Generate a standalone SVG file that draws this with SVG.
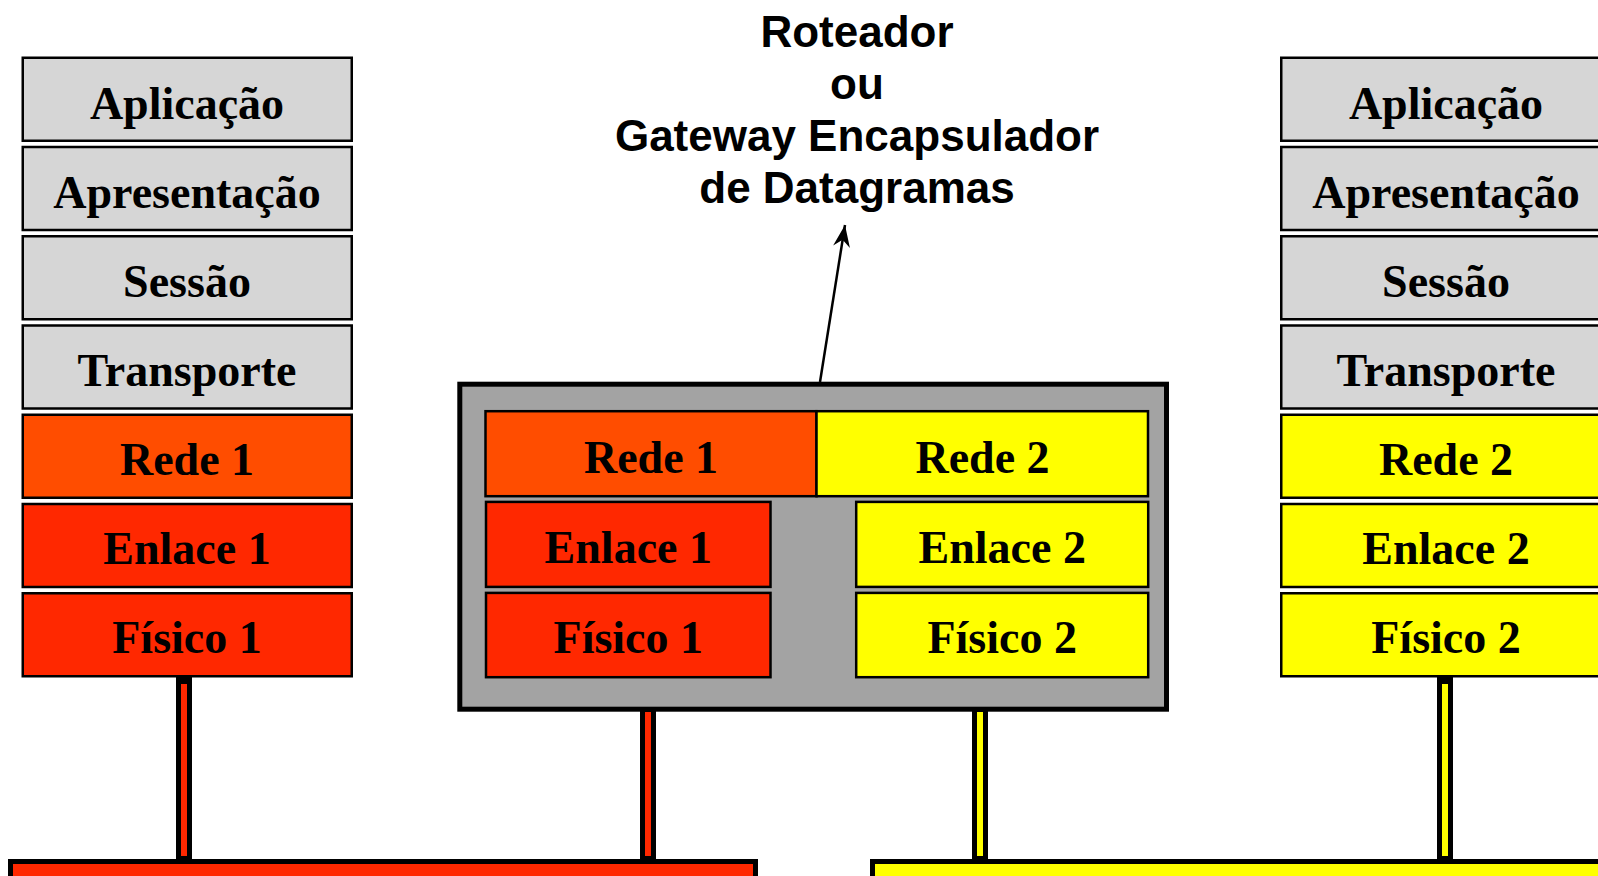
<svg xmlns="http://www.w3.org/2000/svg" width="1598" height="876" viewBox="0 0 1598 876">
<style>
.lay{stroke:#000;stroke-width:2.5}
.gray{fill:#d6d6d6}
.net1{fill:#ff4d00}
.red{fill:#ff2800}
.yel{fill:#ffff00}
.lbl{font-family:"Liberation Serif","Times New Roman",serif;font-weight:bold;font-size:46px;text-anchor:middle;fill:#000}
.ttl{font-family:"Liberation Sans",Arial,sans-serif;font-weight:bold;font-size:44px;text-anchor:middle;fill:#000}
</style>
<defs>
<marker id="ah" markerUnits="userSpaceOnUse" markerWidth="30" markerHeight="30" refX="0" refY="0" orient="auto" overflow="visible">
<path d="M0,0 L-22,-8.5 L-15,0 L-22,8.5 Z" fill="#000"/>
</marker>
</defs>
<rect width="1598" height="876" fill="#fff"/>

<g id="connectors">
<rect x="176" y="676" width="16" height="185" fill="#000"/>
<rect x="181" y="684" width="6" height="172" class="red"/>
<rect x="640" y="708" width="16" height="153" fill="#000"/>
<rect x="645" y="712" width="6" height="144" class="red"/>
<rect x="972" y="708" width="16" height="153" fill="#000"/>
<rect x="977" y="712" width="6" height="144" class="yel"/>
<rect x="1437" y="676" width="16" height="185" fill="#000"/>
<rect x="1442" y="684" width="6" height="172" class="yel"/>
<line x1="820" y1="382" x2="845" y2="225" stroke="#000" stroke-width="2.5" marker-end="url(#ah)"/>
</g>

<g id="net1-bus">
<rect x="8" y="859" width="750" height="40" fill="#000"/>
<rect x="13" y="864" width="740" height="30" class="red"/>
</g>
<g id="net2-bus">
<rect x="870" y="859" width="800" height="40" fill="#000"/>
<rect x="875" y="864" width="790" height="30" class="yel"/>
</g>

<g id="host-left">
<rect class="lay gray" x="22.75" y="57.75" width="329" height="83"/>
<text class="lbl" x="187" y="119">Aplicação</text>
<rect class="lay gray" x="22.75" y="147" width="329" height="83"/>
<text class="lbl" x="187" y="208">Apresentação</text>
<rect class="lay gray" x="22.75" y="236.25" width="329" height="83"/>
<text class="lbl" x="187" y="297">Sessão</text>
<rect class="lay gray" x="22.75" y="325.5" width="329" height="83"/>
<text class="lbl" x="187" y="386">Transporte</text>
<rect class="lay net1" x="22.75" y="414.75" width="329" height="83"/>
<text class="lbl" x="187" y="475">Rede 1</text>
<rect class="lay red" x="22.75" y="504" width="329" height="83"/>
<text class="lbl" x="187" y="564">Enlace 1</text>
<rect class="lay red" x="22.75" y="593.25" width="329" height="83"/>
<text class="lbl" x="187" y="653">Físico 1</text>
</g>

<g id="host-right">
<rect class="lay gray" x="1281.25" y="57.75" width="329" height="83"/>
<text class="lbl" x="1446" y="119">Aplicação</text>
<rect class="lay gray" x="1281.25" y="147" width="329" height="83"/>
<text class="lbl" x="1446" y="208">Apresentação</text>
<rect class="lay gray" x="1281.25" y="236.25" width="329" height="83"/>
<text class="lbl" x="1446" y="297">Sessão</text>
<rect class="lay gray" x="1281.25" y="325.5" width="329" height="83"/>
<text class="lbl" x="1446" y="386">Transporte</text>
<rect class="lay yel" x="1281.25" y="414.75" width="329" height="83"/>
<text class="lbl" x="1446" y="475">Rede 2</text>
<rect class="lay yel" x="1281.25" y="504" width="329" height="83"/>
<text class="lbl" x="1446" y="564">Enlace 2</text>
<rect class="lay yel" x="1281.25" y="593.25" width="329" height="83"/>
<text class="lbl" x="1446" y="653">Físico 2</text>
</g>

<g id="router">
<rect x="459.8" y="384.2" width="706.7" height="325" fill="#a3a3a3" stroke="#000" stroke-width="5"/>
<rect class="lay net1" x="485.5" y="411.2" width="331" height="85"/>
<text class="lbl" x="651" y="473">Rede 1</text>
<rect class="lay yel" x="816.5" y="411.2" width="331.5" height="85"/>
<text class="lbl" x="982.5" y="473">Rede 2</text>
<rect class="lay red" x="486" y="501.9" width="284.5" height="85"/>
<text class="lbl" x="628.3" y="562.5">Enlace 1</text>
<rect class="lay red" x="486" y="592.9" width="284.5" height="84.3"/>
<text class="lbl" x="628.3" y="652.5">Físico 1</text>
<rect class="lay yel" x="856.2" y="501.9" width="292" height="85"/>
<text class="lbl" x="1002.2" y="562.5">Enlace 2</text>
<rect class="lay yel" x="856.2" y="592.9" width="292" height="84.3"/>
<text class="lbl" x="1002.2" y="652.5">Físico 2</text>
</g>

<g id="router-label">
<text class="ttl" x="857" y="47">Roteador</text>
<text class="ttl" x="857" y="99">ou</text>
<text class="ttl" x="857" y="151">Gateway Encapsulador</text>
<text class="ttl" x="857" y="203">de Datagramas</text>
</g>
</svg>
